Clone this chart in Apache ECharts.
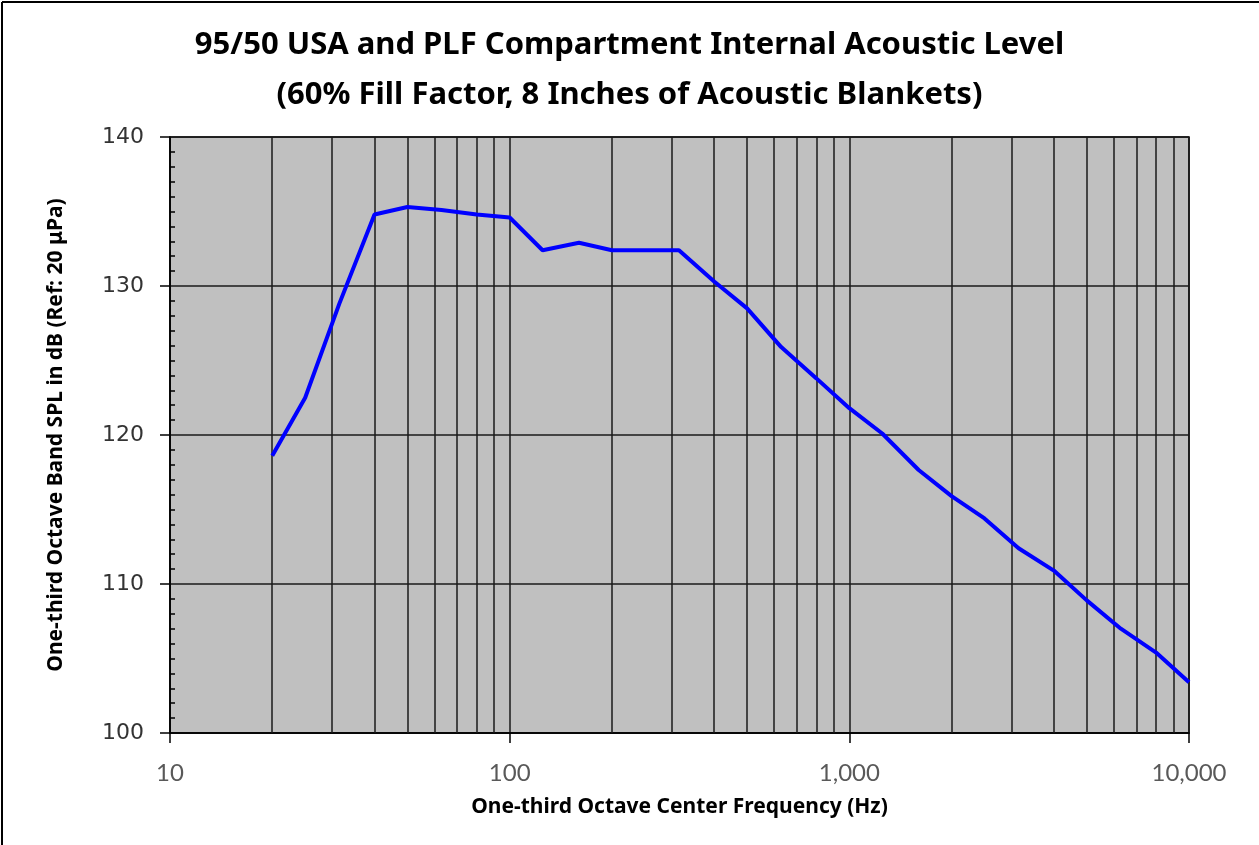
<!DOCTYPE html>
<html>
<head>
<meta charset="utf-8">
<title>Compartment Internal Acoustic Level</title>
<script src="https://cdn.jsdelivr.net/npm/echarts@6/dist/echarts.min.js"></script>
<style>
  html, body { margin: 0; padding: 0; background: #fff; }
  #chart { width: 1259px; height: 845px; }
</style>
</head>
<body>
<div id="chart"></div>
<script>
// one-third octave centre frequencies (Hz)
var freqs = [20, 25, 31.5, 40, 50, 63, 80, 100, 125, 160, 200, 250, 315, 400, 500,
             630, 800, 1000, 1250, 1600, 2000, 2500, 3150, 4000, 5000, 6300, 8000, 10000];
// SPL in dB
var spl = [118.6, 122.5, 128.8, 134.8, 135.3, 135.1, 134.8, 134.6, 132.4, 132.9, 132.4, 132.4, 132.4, 130.3, 128.5,
           125.9, 123.8, 121.8, 120.1, 117.65, 115.9, 114.4, 112.4, 110.9, 108.9, 107.0, 105.4, 103.4];
// vertical grid lines between the decades
var minorGridFreqs = [20, 30, 40, 50, 60, 70, 80, 90,
                      200, 300, 400, 500, 600, 700, 800, 900,
                      2000, 3000, 4000, 5000, 6000, 7000, 8000, 9000];

var chart = echarts.init(document.getElementById('chart'));
var lineData = freqs.map(function (f, i) { return [f, spl[i]]; });

var option = {
  backgroundColor: '#fff',
  animation: false,
  title: {
    text: '95/50 USA and PLF Compartment Internal Acoustic Level\n(60% Fill Factor, 8 Inches of Acoustic Blankets)',
    left: 'center',
    top: 15,
    textStyle: {
      fontFamily: 'Noto Sans',
      fontSize: 31,
      fontWeight: 'bold',
      color: '#000',
      lineHeight: 50
    }
  },
  graphic: [
    { type: 'line', shape: { x1: 2, y1: 2, x2: 1259, y2: 2 }, style: { stroke: '#000', lineWidth: 2 } },
    { type: 'line', shape: { x1: 2, y1: 2, x2: 2, y2: 845 }, style: { stroke: '#000', lineWidth: 2 } }
  ],
  grid: {
    left: 170, right: 70, top: 137, bottom: 112,
    show: true,
    backgroundColor: '#c0c0c0',
    borderColor: '#000',
    borderWidth: 1.5
  },
  xAxis: {
    type: 'log',
    logBase: 10,
    min: 10,
    max: 10000,
    name: 'One-third Octave Center Frequency (Hz)',
    nameLocation: 'middle',
    nameGap: 64,
    nameTextStyle: { fontFamily: 'Noto Sans', fontSize: 21, fontWeight: 'bold', color: '#000' },
    axisLine: { show: true, lineStyle: { color: '#000', width: 1.5 } },
    axisTick: { show: true, length: 10, lineStyle: { color: '#000', width: 1.5 } },
    axisLabel: {
      margin: 28,
      fontFamily: 'Lato',
      fontSize: 24,
      color: '#595959',
      formatter: function (v) { return Math.round(v).toLocaleString('en-US'); }
    },
    splitLine: { show: true, lineStyle: { color: '#1a1a1a', width: 1.5 } },
    minorTick: { show: false }
  },
  yAxis: {
    type: 'value',
    min: 100,
    max: 140,
    interval: 10,
    name: 'One-third Octave Band SPL in dB (Ref: 20 μPa)',
    nameLocation: 'middle',
    nameGap: 103,
    nameTextStyle: { fontFamily: 'Noto Sans', fontSize: 21, fontWeight: 'bold', color: '#000' },
    axisLine: { show: true, lineStyle: { color: '#000', width: 1.5 } },
    axisTick: { show: true, length: 10, lineStyle: { color: '#000', width: 1.5 } },
    minorTick: { show: true, splitNumber: 10, length: -5, lineStyle: { color: '#000', width: 1.5 } },
    axisLabel: {
      margin: 26,
      fontFamily: 'DejaVu Sans',
      fontSize: 22,
      color: '#333'
    },
    splitLine: { show: true, lineStyle: { color: '#1a1a1a', width: 1.5 } }
  },
  series: [
    {
      name: 'grid',
      type: 'line',
      data: [],
      silent: true,
      markLine: {
        silent: true,
        symbol: 'none',
        animation: false,
        label: { show: false },
        lineStyle: { color: '#1a1a1a', width: 1.5, type: 'solid' },
        emphasis: { disabled: true },
        data: minorGridFreqs.map(function (f) { return { xAxis: f }; })
      }
    },
    {
      name: 'SPL',
      type: 'line',
      data: lineData,
      showSymbol: false,
      symbol: 'none',
      z: 5,
      lineStyle: { color: '#0000ff', width: 4 }
    }
  ]
};

chart.setOption(option);
</script>
</body>
</html>
